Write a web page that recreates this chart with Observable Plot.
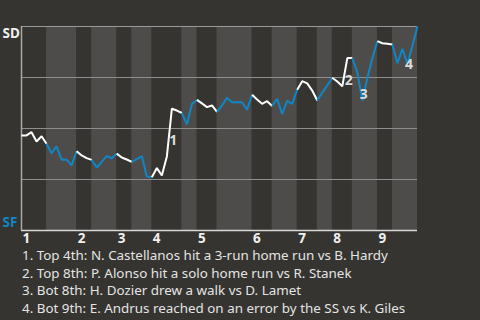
<!DOCTYPE html>
<html>
<head>
<meta charset="utf-8">
<script src="https://cdn.jsdelivr.net/npm/d3@7"></script>
<script src="https://cdn.jsdelivr.net/npm/@observablehq/plot@0.6"></script>
<style>
  html, body { margin: 0; padding: 0; background: #353430; }
  body { width: 480px; height: 320px; overflow: hidden; font-family: "Noto Sans", sans-serif; }
  #caption { color: #e4e4e4; font-size: 13.4px; line-height: 17.7px; padding-left: 22px; margin-top: 1px; }
  #caption div { white-space: nowrap; }
</style>
</head>
<body>
<div id="chart"></div>
<div id="caption"></div>
<script>
// SD win probability (%) after each play, play 0 = start of game
const winProb = [
  46.6, 46.6, 48.2, 43.6, 46.2, 42.5,
  37.9, 41.2, 34.7, 34.7, 31.9, 38.9,
  36.8, 35.5, 34.6,
  30.9, 33.6, 36.5, 35.4, 37.7,
  35.8, 34.8, 33.6,
  35.0, 36.5, 26.5, 26.1,
  30.6, 27.0, 36.3, 59.7, 58.8, 57.6,
  52.0, 62.0, 64.0,
  62.3, 60.5, 61.3, 58.1,
  61.3, 65.0, 62.9, 62.9, 62.9, 59.2, 66.5,
  64.2, 62.1, 63.4, 61.0,
  64.6, 57.2, 63.5, 62.1, 69.0,
  73.2, 72.1, 68.6, 63.7,
  67.6, 71.1, 74.9,
  73.0, 70.7, 84.5, 84.5,
  77.5, 63.7, 74.8, 84.6, 92.8,
  91.8, 91.5, 91.2,
  82.0, 89.1, 81.7, 90.7, 100
];
// play index at which each half-inning begins (top 1st, bottom 1st, ...)
const halfStarts = [0, 5, 11, 14, 19, 22, 26, 32, 35, 39, 46, 50, 55, 59, 62, 66, 71, 74];
const lastPlay = 79;
const teams = ["SD", "SF"]; // top half: SD bats, bottom half: SF bats
const inningLabels = ["1", "2", "3", "4", "5", "6", "7", "8", "9"];
const eventPlays = [30, 65, 68, 77];
const eventLabels = ["1", "2", "3", "4"];
const eventTexts = [
  "1. Top 4th: N. Castellanos hit a 3-run home run vs B. Hardy",
  "2. Top 8th: P. Alonso hit a solo home run vs R. Stanek",
  "3. Bot 8th: H. Dozier drew a walk vs D. Lamet",
  "4. Bot 9th: E. Andrus reached on an error by the SS vs K. Giles"
];

const colors = { SD: "#ffffff", SF: "#1086c6" };

const halves = halfStarts.map((s, h) => ({
  start: s,
  end: h + 1 < halfStarts.length ? halfStarts[h + 1] : lastPlay,
  team: teams[h % 2]
}));

const linePts = [];
halves.forEach((hv, h) => {
  for (let i = hv.start; i <= hv.end; i++) {
    linePts.push({ x: i, y: winProb[i], half: h, team: hv.team });
  }
});

const inningStarts = halfStarts.filter((_, h) => h % 2 === 0);

const events = eventPlays.map((p, k) => ({
  x: p - 0.5,
  y: (winProb[p - 1] + winProb[p]) / 2,
  label: eventLabels[k]
}));

const W = 480, H = 246;
const chart = Plot.plot({
  width: W,
  height: H,
  marginLeft: 21,
  marginRight: 63,
  marginTop: 26,
  marginBottom: 16,
  style: { background: "#353430", fontFamily: "Noto Sans, sans-serif", overflow: "visible" },
  x: { domain: [0, lastPlay], axis: null },
  y: { domain: [0, 100], axis: null },
  marks: [
    Plot.rect(halves.filter(d => d.team === "SF"), { x1: "start", x2: "end", fill: "#4d4c4a" }),
    Plot.ruleY([25, 50, 75], { stroke: "#8e8e8e", strokeWidth: 1 }),
    Plot.ruleY([100], { stroke: "#9a9a9a", strokeWidth: 1 }),
    Plot.ruleY([0], { stroke: "#d8d8d8", strokeWidth: 1.5 }),
    Plot.ruleX([0], { stroke: "#a8a8a8", strokeWidth: 1.5 }),
    Plot.line(linePts, {
      x: "x", y: "y", z: "half",
      stroke: d => colors[d.team],
      strokeWidth: 2, strokeLinejoin: "miter", strokeLinecap: "butt"
    }),
    Plot.text(events, {
      x: "x", y: "y", text: "label", dx: 4, dy: 8,
      fill: "#dcdcdc", fontSize: 14, fontWeight: "bold"
    }),
    Plot.text(inningStarts, {
      x: d => d, y: 0, text: (d, i) => inningLabels[i],
      textAnchor: "start", lineAnchor: "top", dx: 1, dy: 3,
      fill: "#f0f0f0", fontSize: 13.5, fontWeight: "bold"
    }),
    Plot.text(["SD"], {
      frameAnchor: "top-left", text: d => d, textAnchor: "start", lineAnchor: "top",
      dx: -19, dy: 2, fill: "#f0f0f0", fontSize: 13.5, fontWeight: "bold"
    }),
    Plot.text(["SF"], {
      frameAnchor: "bottom-left", text: d => d, textAnchor: "start", lineAnchor: "bottom",
      dx: -19, dy: -4, fill: colors.SF, fontSize: 13.5, fontWeight: "bold"
    })
  ]
});
document.getElementById("chart").appendChild(chart);
const cap = document.getElementById("caption");
eventTexts.forEach(t => {
  const d = document.createElement("div");
  d.textContent = t;
  cap.appendChild(d);
});
</script>
</body>
</html>
